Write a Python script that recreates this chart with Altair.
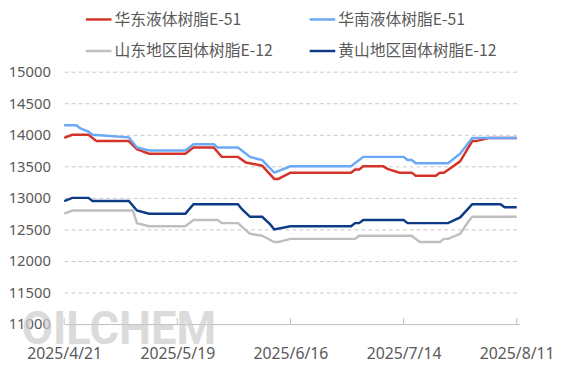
import altair as alt
import pandas as pd

# ---- data ----
names = ["华东液体树脂E-51", "华南液体树脂E-51", "山东地区固体树脂E-12", "黄山地区固体树脂E-12"]
colors = ["#D4332A", "#6CA8F5", "#BFBFBF", "#0E3B86"]

red_dates = ["2025-04-21","2025-04-23","2025-04-27","2025-04-29","2025-05-07","2025-05-09","2025-05-12",
             "2025-05-21","2025-05-23","2025-05-28","2025-05-30","2025-06-03","2025-06-05","2025-06-09",
             "2025-06-12","2025-06-13","2025-06-16","2025-07-01","2025-07-02","2025-07-03","2025-07-04",
             "2025-07-09","2025-07-10","2025-07-13","2025-07-16","2025-07-17","2025-07-22","2025-07-23",
             "2025-07-24","2025-07-28","2025-07-31","2025-08-01","2025-08-04","2025-08-11"]
red_vals = [13950,14000,14000,13900,13900,13770,13700,13700,13800,13800,13650,13650,13560,13510,
            13300,13300,13400,13400,13450,13450,13500,13500,13460,13400,13400,13350,13350,13400,
            13400,13580,13900,13900,13950,13950]

blue_dates = ["2025-04-21","2025-04-24","2025-04-25","2025-04-27","2025-04-28","2025-05-07","2025-05-09",
              "2025-05-12","2025-05-21","2025-05-23","2025-05-28","2025-05-29","2025-06-03","2025-06-06",
              "2025-06-09","2025-06-12","2025-06-16","2025-07-01","2025-07-04","2025-07-14","2025-07-15",
              "2025-07-16","2025-07-17","2025-07-25","2025-07-28","2025-07-31","2025-08-11"]
blue_vals = [14150,14150,14100,14050,14000,13960,13800,13750,13750,13850,13850,13800,13800,13650,
             13600,13400,13500,13500,13650,13650,13600,13600,13550,13550,13700,13950,13950]

gray_dates = ["2025-04-21","2025-04-23","2025-05-08","2025-05-09","2025-05-12","2025-05-21","2025-05-23",
              "2025-05-29","2025-05-30","2025-06-03","2025-06-06","2025-06-09","2025-06-12","2025-06-13",
              "2025-06-16","2025-07-02","2025-07-03","2025-07-16","2025-07-18","2025-07-23","2025-07-24",
              "2025-07-25","2025-07-28","2025-07-30","2025-07-31","2025-08-11"]
gray_vals = [12750,12800,12800,12600,12550,12550,12650,12650,12600,12600,12430,12400,12300,12300,
             12350,12350,12400,12400,12300,12300,12350,12350,12430,12620,12700,12700]

navy_dates = ["2025-04-21","2025-04-23","2025-04-27","2025-04-28","2025-05-07","2025-05-09","2025-05-12",
              "2025-05-21","2025-05-23","2025-06-03","2025-06-04","2025-06-06","2025-06-09","2025-06-11",
              "2025-06-12","2025-06-16","2025-07-01","2025-07-02","2025-07-03","2025-07-04","2025-07-14",
              "2025-07-15","2025-07-25","2025-07-28","2025-07-30","2025-07-31","2025-08-07","2025-08-08",
              "2025-08-11"]
navy_vals = [12950,13000,13000,12950,12950,12800,12750,12750,12900,12900,12820,12700,12700,12580,
             12500,12550,12550,12600,12600,12650,12650,12600,12600,12690,12830,12900,12900,12850,
             12850]

tick_dates = ["2025-04-21", "2025-05-19", "2025-06-16", "2025-07-14", "2025-08-11"]
y_ticks = [11000, 11500, 12000, 12500, 13000, 13500, 14000, 14500, 15000]

rows = []
for nm, ds, vs in zip(names, [red_dates, blue_dates, gray_dates, navy_dates],
                      [red_vals, blue_vals, gray_vals, navy_vals]):
    for d, v in zip(ds, vs):
        rows.append({"date": d, "value": v, "series": nm})
df = pd.DataFrame(rows)
df["order"] = df["series"].map({n: i for i, n in enumerate(names)})

xscale = alt.Scale(type="utc",
                   domain=[alt.DateTime(year=2025, month=4, date=21, utc=True),
                           alt.DateTime(year=2025, month=8, date=11, hours=17, utc=True)])
yscale = alt.Scale(domain=[11000, 15000], nice=False, zero=False)

xaxis = alt.Axis(values=[alt.DateTime(year=2025, month=int(d[5:7]), date=int(d[8:10]), utc=True) for d in tick_dates],
                 labelExpr="utcFormat(datum.value, '%Y/%-m/%-d')", title=None, grid=False,
                 ticks=False, tickSize=0, labelPadding=22, labelFontSize=16, labelColor="#595959",
                 labelFont="Noto Sans", domainColor="#BFBFBF", domainWidth=1, labelFlush=False,
                 labelOverlap=False)
yaxis = alt.Axis(values=y_ticks, format="d", title=None, grid=True, gridDash=[4, 3], gridColor="#C8C8C8",
                 domain=False, ticks=False, tickSize=0, labelPadding=14, labelFontSize=15,
                 labelColor="#595959", labelFont="Noto Sans")

wm = alt.Chart(pd.DataFrame({"t": ["OILCHEM"]})).mark_text(
    align="left", baseline="middle", font="Roboto", fontSize=46, fontWeight="bold",
    color="#CCCCCC", opacity=0.7
).encode(x=alt.value(-43), y=alt.value(262), text="t:N")

lines = alt.Chart(df).mark_line(strokeWidth=2.5).encode(
    x=alt.X("date:T", scale=xscale, axis=xaxis),
    y=alt.Y("value:Q", scale=yscale, axis=yaxis),
    color=alt.Color("series:N", scale=alt.Scale(domain=names, range=colors), legend=None),
    order="order:Q",
)

ticks = alt.Chart(pd.DataFrame({"date": tick_dates})).mark_rule(color="#BFBFBF", strokeWidth=1).encode(
    x=alt.X("date:T", scale=xscale), y=alt.value(250), y2=alt.value(256)
)

# legend drawn as layout: (symbol x start, row y) in plot pixels, 2 columns x 2 rows
leg_cols = [22, 249]
leg_rows = [-53, -21]
legend_layers = []
for i, (nm, col) in enumerate(zip(names, colors)):
    lx = leg_cols[i % 2]
    ly = leg_rows[i // 2]
    src = pd.DataFrame({"name": [nm]})
    legend_layers.append(
        alt.Chart(src).mark_rule(color=col, strokeWidth=2.5).encode(
            x=alt.value(lx), x2=alt.value(lx + 26), y=alt.value(ly))
    )
    legend_layers.append(
        alt.Chart(src).mark_text(align="left", baseline="middle", font="Noto Sans CJK SC",
                                 fontSize=16, color="#595959").encode(
            x=alt.value(lx + 29), y=alt.value(ly + 0.5), text="name:N")
    )

chart = alt.layer(wm, lines, ticks, *legend_layers).properties(
    width=462, height=256,
    autosize=alt.AutoSizeParams(type="none"),
    padding={"left": 57, "top": 62, "right": 40, "bottom": 45},
).configure_view(stroke=None)

chart.save("out.html", embed_options={"renderer": "svg", "actions": False})
